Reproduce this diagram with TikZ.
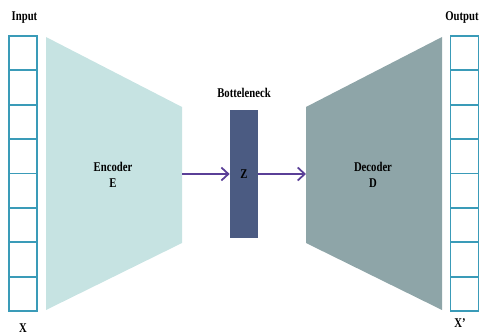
\documentclass[tikz,border=0pt]{standalone}
\usepackage{fontspec}
\setmainfont{Liberation Serif}[FakeStretch=0.8]
\usetikzlibrary{positioning, arrows.meta}
\definecolor{cellblue}{HTML}{3A9BB8}
\definecolor{encfill}{HTML}{C6E3E2}
\definecolor{decfill}{HTML}{8EA5A8}
\definecolor{zfill}{HTML}{4B5B82}
\definecolor{arrowpurple}{HTML}{5A3F97}
\begin{document}
\begin{tikzpicture}[x=0.02cm, y=-0.02cm,
    every node/.style={font=\fontsize{7.6}{9}\selectfont\bfseries, text=black},
    cell/.style={draw=cellblue, line width=1pt,
      minimum width=0.56cm, minimum height=0.6875cm, inner sep=0pt},
    block label/.style={align=center},
    flow/.style={draw=arrowpurple, line width=1pt, -{Straight Barb[length=1.4mm, width=2.6mm]}}]
  \useasboundingbox (0,0) rectangle (479,334);
  \foreach \i in {1,...,8} {
    \node [cell] (in\i) at (23, 36+34.375*\i-17.19) {};
    \node [cell] (out\i) at (464.5, 36+34.375*\i-17.19) {};
  }
  \node (input) at (24.5,18) {Input};
  \node [anchor=west, inner sep=0pt] (output) at (445,18) {Output};
  \node (x) at (23,328) {X};
  \node (xhat) at (460,323) {X'};
  \coordinate (enc out) at (182,174);
  \coordinate (dec in) at (306,174);
  \fill [encfill] (46,37) -- (182,107) -- (182,243) -- (46,310) -- cycle;
  \fill [decfill] (306,107) -- (442,37) -- (442,310) -- (306,243) -- cycle;
  \node [block label] (encoder) at (113,175) {Encoder\\E};
  \node [block label] (decoder) at (373,175) {Decoder\\D};
  \node [fill=zfill, minimum width=0.56cm, minimum height=2.56cm, inner sep=0pt] (z) at (244,174) {Z};
  \node (bottleneck) at (244,93) {Botteleneck};
  \draw [flow] (enc out) -- (z.west);
  \draw [flow] (z.east) -- (dec in);
\end{tikzpicture}
\end{document}
